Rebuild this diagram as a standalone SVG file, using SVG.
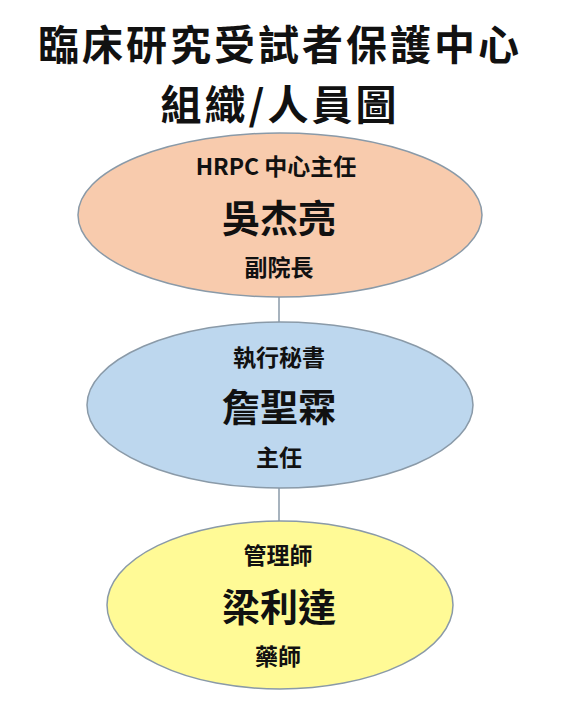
<svg xmlns="http://www.w3.org/2000/svg" width="568" height="716" viewBox="0 0 568 716">
<style>
text{font-family:"Noto Sans CJK TC","Noto Sans CJK SC",sans-serif;fill:#111;text-anchor:middle}
.title{font-size:41px;font-weight:bold;letter-spacing:3px}
.role{font-size:23px;font-weight:600}
.name{font-size:38px;font-weight:bold}
.node ellipse{stroke:#8a9aa8;stroke-width:1.5}
.conn line{stroke:#8a9aa8;stroke-width:1.5}
</style>
<rect width="568" height="716" fill="#fff"/>
<g id="title">
<text class="title" x="280" y="60">臨床研究受試者保護中心</text>
<text class="title" x="280" y="120">組織/人員圖</text>
</g>
<g class="conn" id="connectors">
<line x1="279" y1="297" x2="279" y2="322"/>
<line x1="279" y1="488" x2="279" y2="522"/>
</g>
<g class="node" id="node-director">
<ellipse cx="280" cy="215" rx="202" ry="82" fill="#F8CBAD"/>
<text class="role" x="276" y="175">HRPC 中心主任</text>
<text class="name" x="279" y="232">吳杰亮</text>
<text class="role" x="279" y="276">副院長</text>
</g>
<g class="node" id="node-secretary">
<ellipse cx="280" cy="405" rx="193" ry="83" fill="#BDD7EE"/>
<text class="role" x="279" y="366">執行秘書</text>
<text class="name" x="279" y="421">詹聖霖</text>
<text class="role" x="279" y="466">主任</text>
</g>
<g class="node" id="node-manager">
<ellipse cx="280" cy="605" rx="173" ry="84" fill="#FFFA96"/>
<text class="role" x="278" y="564">管理師</text>
<text class="name" x="279" y="621">梁利達</text>
<text class="role" x="278" y="665">藥師</text>
</g>
</svg>
